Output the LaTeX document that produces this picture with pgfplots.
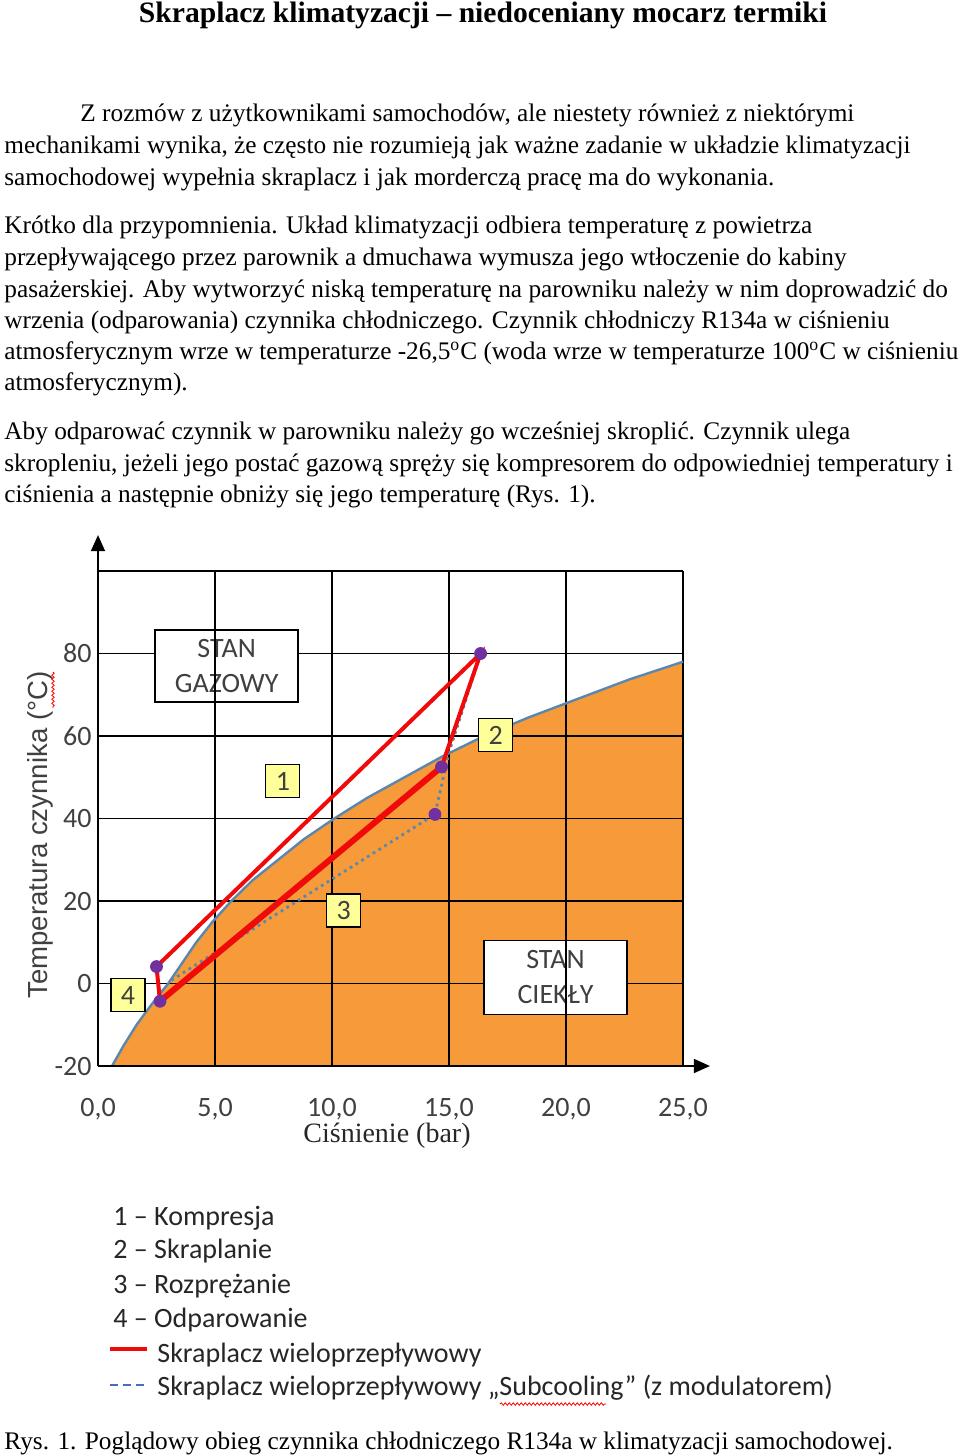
\documentclass[border=0pt]{standalone}
\usepackage{fontspec}
\setmainfont{Liberation Serif}
\newfontfamily\carl{Carlito}
\newfontfamily\lsans{Liberation Sans}
\usepackage{pgfplots}
\pgfplotsset{compat=1.18}
\usetikzlibrary{arrows.meta,decorations.pathmorphing}
\definecolor{orng}{HTML}{F79B3A}
\definecolor{curve}{HTML}{5B87AE}
\definecolor{ylw}{HTML}{FFFF99}
\definecolor{purp}{HTML}{7030A0}
\definecolor{redl}{HTML}{F00A0A}
\definecolor{gtxt}{HTML}{404040}
\begin{document}
\begin{tikzpicture}
\begin{scope}[x=0.5pt,y=-0.5pt]
\path (0,0) rectangle (960,1456);
\node[anchor=base, inner sep=0, font=\fontsize{14.8}{16}\selectfont\bfseries] at (483,22) {Skraplacz klimatyzacji – niedoceniany mocarz termiki};
\begin{scope}[every node/.style={anchor=base west, inner sep=0, font=\fontsize{12.65}{14}\selectfont}]
\node at (80,121) {Z rozmów z użytkownikami samochodów, ale niestety również z niektórymi};
\node at (4,153) {mechanikami wynika, że często nie rozumieją jak ważne zadanie w układzie klimatyzacji};
\node at (4,185) {samochodowej wypełnia skraplacz i jak morderczą pracę ma do wykonania.};
\node at (4,233) {Krótko dla przypomnienia. Układ klimatyzacji odbiera temperaturę z powietrza};
\node at (4,265) {przepływającego przez parownik a dmuchawa wymusza jego wtłoczenie do kabiny};
\node at (4,297) {pasażerskiej. Aby wytworzyć niską temperaturę na parowniku należy w nim doprowadzić do};
\node at (4,328) {wrzenia (odparowania) czynnika chłodniczego. Czynnik chłodniczy R134a w ciśnieniu};
\node at (4,359) {atmosferycznym wrze w temperaturze -26,5\textsuperscript{o}C (woda wrze w temperaturze 100\textsuperscript{o}C w ciśnieniu};
\node at (4,390) {atmosferycznym).};
\node at (4,439) {Aby odparować czynnik w parowniku należy go wcześniej skroplić. Czynnik ulega};
\node at (4,471) {skropleniu, jeżeli jego postać gazową spręży się kompresorem do odpowiedniej temperatury i};
\node at (4,502) {ciśnienia a następnie obniży się jego temperaturę (Rys. 1).};
\node at (4,1449) {Rys. 1. Poglądowy obieg czynnika chłodniczego R134a w klimatyzacji samochodowej.};
\end{scope}
\begin{scope}[every node/.style={anchor=base west, inner sep=0, text=black!85, font=\carl\fontsize{14}{16}\selectfont}]
\node at (113,1225) {1 – Kompresja};
\node at (113,1258) {2 – Skraplanie};
\node at (113,1293) {3 – Rozprężanie};
\node at (113,1327) {4 – Odparowanie};
\node at (157,1362) {Skraplacz wieloprzepływowy};
\node at (157,1395) {Skraplacz wieloprzepływowy „Subcooling” (z modulatorem)};
\end{scope}
\draw[redl, line width=1.6pt] (110,1349) -- (147,1349);
\draw[curve!80!blue, line width=1.4pt, dash pattern=on 4pt off 2.5pt] (110,1385) -- (147,1385);
\draw[red, line width=0.4pt, decorate, decoration={snake, amplitude=0.6pt, segment length=2pt}] (500,1404) -- (606,1404);
\node[rotate=90, inner sep=0, text=gtxt, font=\lsans\fontsize{13.8}{16}\selectfont] at (40,835) {Temperatura czynnika (°C)};
\draw[red, line width=0.4pt, decorate, decoration={snake, amplitude=0.6pt, segment length=2pt}] (53,672) -- (53,708);
\node[inner sep=0, text=black!85, font=\fontsize{14}{16}\selectfont] at (387,1136) {Ciśnienie (bar)};
\end{scope}
\begin{axis}[at={(49pt,-533pt)}, anchor=south west, scale only axis,
  width=292.5pt, height=247.5pt, xmin=0, xmax=25, ymin=-20, ymax=100,
  axis line style={draw=none}, tick style={draw=none},
  xtick={0,5,...,25}, ytick={-20,0,...,100},
  xticklabels={0{,}0,5{,}0,10{,}0,15{,}0,20{,}0,25{,}0},
  yticklabels={-20,0,20,40,60,80,{}},
  grid=major, major grid style={black, line width=0.6pt},
  xticklabel style={anchor=center, yshift=-21.5pt, text=gtxt, font=\carl\fontsize{14}{16}\selectfont},
  yticklabel style={anchor=east, inner sep=0pt, xshift=-3pt, text=gtxt, font=\carl\fontsize{14}{16}\selectfont},
  clip=false, set layers=standard]
\addplot[on layer=axis background, fill=orng, draw=none] coordinates {(0.6,-20)(1.1,-15)(1.65,-10)(2.3,-5)(3.0,0)(3.6,5)(4.2,10)(4.9,15)(5.7,20)(6.6,25)(7.7,30)(8.8,35)(10.1,40)(11.5,45)(13.1,50)(14.7,55)(16.5,60)(18.4,64.5)(20.5,69)(22.7,73.7)(25,78)(25,-20)};
\addplot[curve, line width=1.2pt] coordinates {(0.6,-20)(1.1,-15)(1.65,-10)(2.3,-5)(3.0,0)(3.6,5)(4.2,10)(4.9,15)(5.7,20)(6.6,25)(7.7,30)(8.8,35)(10.1,40)(11.5,45)(13.1,50)(14.7,55)(16.5,60)(18.4,64.5)(20.5,69)(22.7,73.7)(25,78)};
\addplot[curve, line width=1.2pt] coordinates {(0.6,-20)(25,-20)};
\addplot[curve, dotted, line width=1.4pt] coordinates {(16.35,80)(15.0,56)(14.4,41)(3.0,0.3)};
\addplot[redl, line width=2pt] coordinates {(2.5,4.1)(16.35,80)(14.68,52.5)};
\addplot[redl, line width=3pt] coordinates {(14.68,52.5)(2.65,-4.3)};
\addplot[redl, line width=2pt] coordinates {(2.65,-4.3)(2.5,4.1)};
\addplot[only marks, mark=*, mark size=3pt, purp] coordinates {(16.35,80)(14.68,52.5)(14.4,41)(2.5,4.1)(2.65,-4.3)};
\draw[black, line width=0.8pt, -{Triangle[length=8pt,width=7pt]}] (axis cs:0,-20) -- (axis cs:0,108.7);
\draw[black, line width=0.8pt, -{Triangle[length=8pt,width=7pt]}] (axis cs:0,-20) -- (axis cs:26.15,-20);
\begin{scope}[every node/.style={font=\carl\fontsize{14}{17.5}\selectfont, text=gtxt, align=center}]
\node[draw=black, fill=white, line width=0.8pt, minimum width=71.5pt, minimum height=36pt] at (axis cs:5.5,77) {STAN\\GAZOWY};
\node[draw=black, fill=white, line width=0.8pt, minimum width=71.5pt, minimum height=37pt] at (axis cs:19.55,1.5) {STAN\\CIEKŁY};
\node[draw=black, fill=ylw, line width=0.6pt, minimum width=17pt, minimum height=16.5pt, inner sep=0] at (axis cs:7.9,49) {1};
\node[draw=black, fill=ylw, line width=0.6pt, minimum width=17pt, minimum height=16.5pt, inner sep=0] at (axis cs:17.0,60.2) {2};
\node[draw=black, fill=ylw, line width=0.6pt, minimum width=17pt, minimum height=16.5pt, inner sep=0] at (axis cs:10.5,17.7) {3};
\node[draw=black, fill=ylw, line width=0.6pt, minimum width=17pt, minimum height=16.5pt, inner sep=0] at (axis cs:1.28,-2.8) {4};
\end{scope}
\draw[black, line width=0.6pt] (axis cs:5,68.5) -- (axis cs:5,85.6);
\draw[black, line width=0.6pt] (axis cs:20,-7.6) -- (axis cs:20,10.7);
\end{axis}
\end{tikzpicture}
\end{document}
